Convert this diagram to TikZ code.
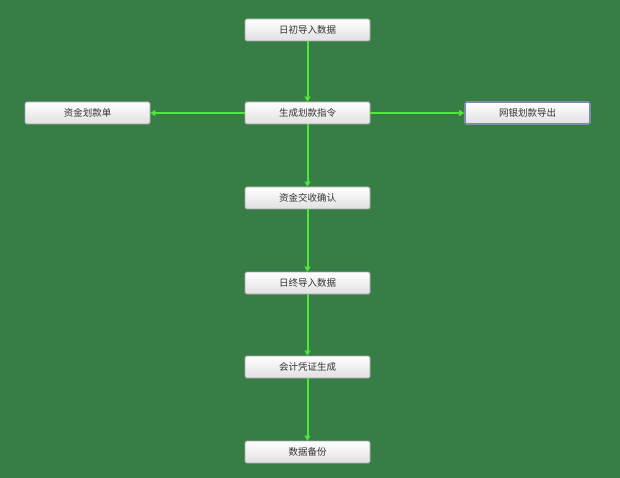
\documentclass[tikz,border=0pt]{standalone}
\usepackage{fontspec}
\setmainfont{Noto Sans CJK SC}
\usetikzlibrary{arrows.meta}
\definecolor{bg}{HTML}{377D46}
\definecolor{ln}{HTML}{4FE83A}
\definecolor{bxb}{HTML}{E0E0E0}
\definecolor{bd}{HTML}{A8A8A8}
\definecolor{selb}{HTML}{7E8CA6}
\definecolor{tx}{HTML}{333333}
\tikzset{
  x=1pt,y=-1pt,
  box/.style={draw=bd,line width=0.8pt,rounded corners=1.5pt,top color=white,bottom color=bxb,
    minimum width=125pt,minimum height=22pt,inner sep=0pt,font=\fontsize{9.5}{10}\selectfont,text=tx},
  sel/.style={box,draw=selb,line width=1.6pt},
  conn/.style={draw=ln,line width=2pt,-{Triangle[length=5pt,width=6pt]}}
}
\begin{document}
\begin{tikzpicture}
\fill[bg] (0,0) rectangle (620,478);
\useasboundingbox (0,0) rectangle (620,478);
\node[box] (a) at (307.5,30) {日初导入数据};
\node[box] (b) at (307.5,113) {生成划款指令};
\node[box] (l) at (87.5,113) {资金划款单};
\node[sel] (r) at (527.5,113) {网银划款导出};
\node[box] (c) at (307.5,198) {资金交收确认};
\node[box] (d) at (307.5,283) {日终导入数据};
\node[box] (e) at (307.5,367) {会计凭证生成};
\node[box] (f) at (307.5,452) {数据备份};
\draw[conn] (a) -- (b);
\draw[conn] (b) -- (l);
\draw[conn] (b) -- (r);
\draw[conn] (b) -- (c);
\draw[conn] (c) -- (d);
\draw[conn] (d) -- (e);
\draw[conn] (e) -- (f);
\end{tikzpicture}
\end{document}
